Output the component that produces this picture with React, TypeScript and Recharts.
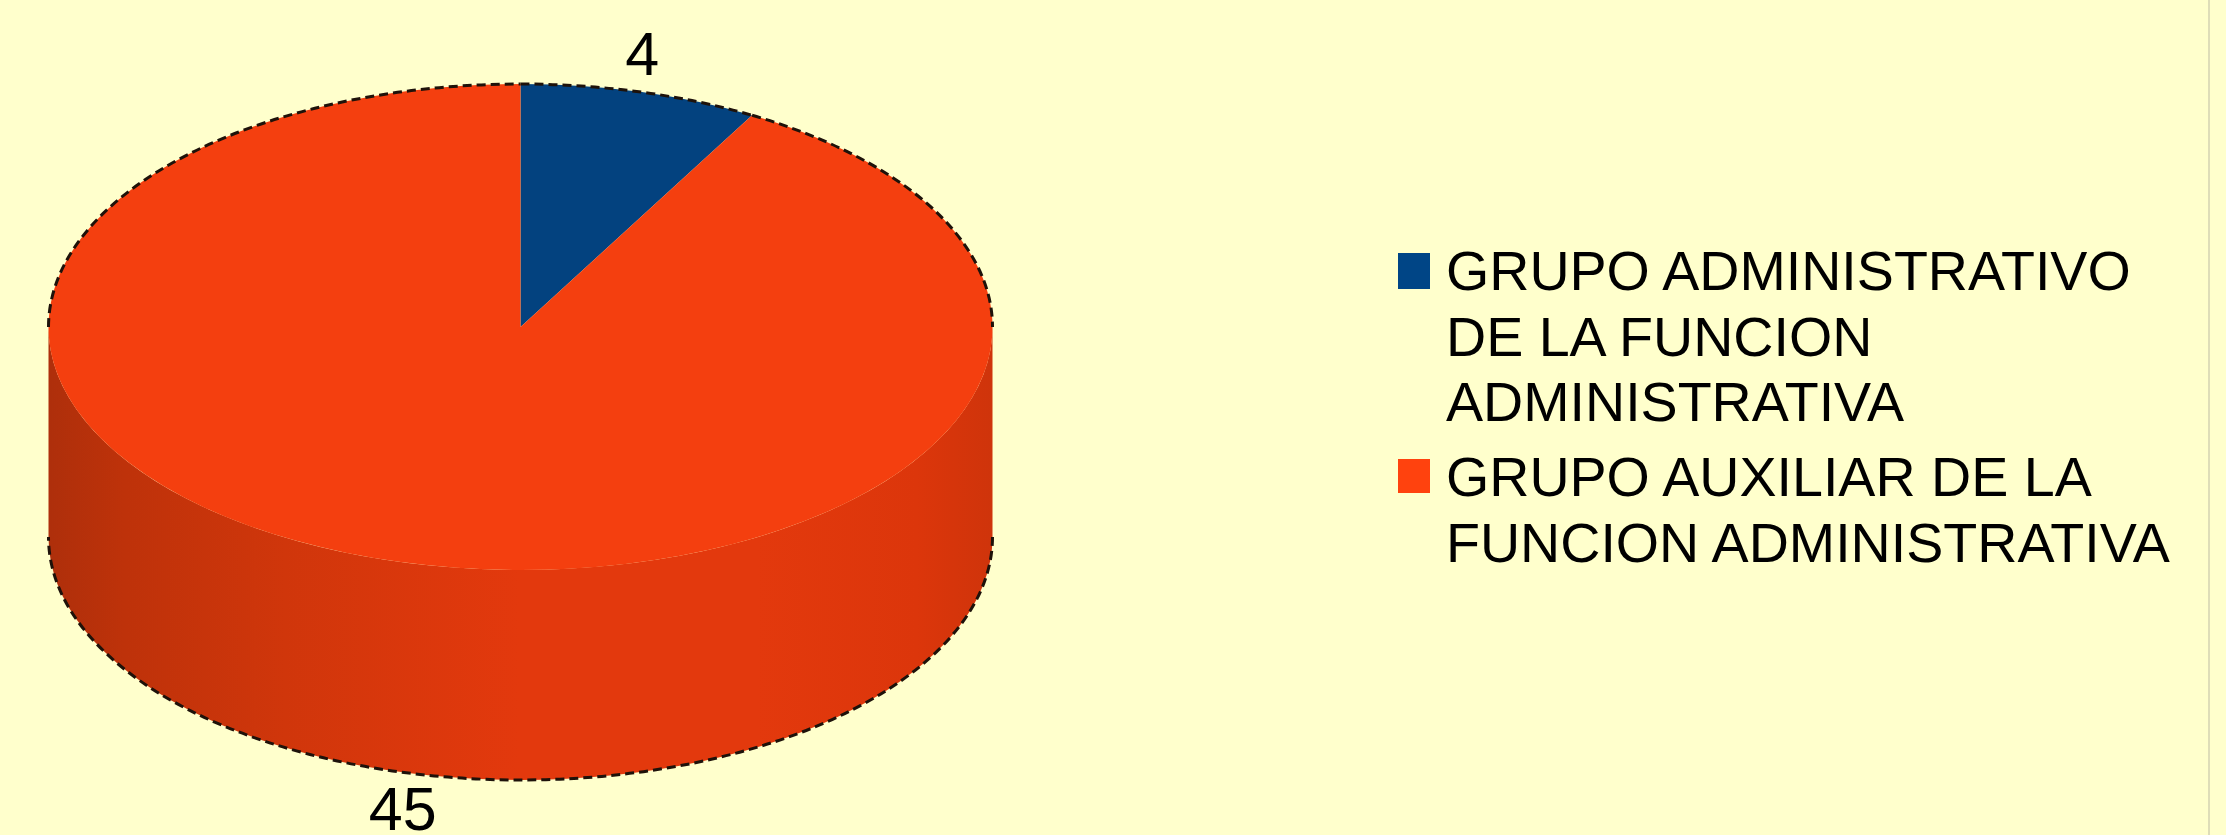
import React from "react";
import { PieChart, Pie, Cell, Legend } from "recharts";

const categories = [
  "GRUPO ADMINISTRATIVO DE LA FUNCION ADMINISTRATIVA",
  "GRUPO AUXILIAR DE LA FUNCION ADMINISTRATIVA",
];
const values = [4, 45];
const topColors = ["#03427F", "#F43F0F"];
const legendColors = ["#004586", "#FF420E"];

const rows = categories.map((name, i) => ({ name, value: values[i] }));

const CX = 520.5;
const CY = 327;
const RX = 472;
const RY = 243;
const DEPTH = 210;
const FONT = '"Liberation Sans", Arial, sans-serif';

const pt = (deg: number, dy: number) => {
  const r = (deg * Math.PI) / 180;
  return [CX + RX * Math.cos(r), CY - RY * Math.sin(r) + dy];
};
const arcTo = (from: number, to: number, dy: number) => {
  const [x, y] = pt(to, dy);
  const large = Math.abs(from - to) > 180 ? 1 : 0;
  const sweep = from > to ? 1 : 0;
  return `A ${RX} ${RY} 0 ${large} ${sweep} ${x} ${y}`;
};
const overlap = (hi: number, lo: number, bands: number[][]) =>
  bands
    .map(([a, b]) => [Math.min(hi, a), Math.max(lo, b)])
    .filter(([a, b]) => a > b);

const FRONT = [[360, 180], [0, -180], [-360, -540]];
const BACK = [[180, 0], [-180, -360]];

const Slice = (props: any) => {
  const { startAngle, endAngle, fill, index } = props;
  const hi = Math.max(startAngle, endAngle);
  const lo = Math.min(startAngle, endAngle);
  const front = overlap(hi, lo, FRONT);
  const back = overlap(hi, lo, BACK);
  const [sx, sy] = pt(hi, 0);
  const gid = `side-${index}`;
  return (
    <g>
      <defs>
        <linearGradient id={gid} gradientUnits="userSpaceOnUse" x1={CX - RX} x2={CX + RX} y1="0" y2="0">
          <stop offset="0" stopColor="#AE2F0B" />
          <stop offset="0.08" stopColor="#BE320A" />
          <stop offset="0.25" stopColor="#D0360B" />
          <stop offset="0.5" stopColor="#E3390D" />
          <stop offset="0.75" stopColor="#E3390D" />
          <stop offset="0.92" stopColor="#DC360B" />
          <stop offset="1" stopColor="#CF340B" />
        </linearGradient>
      </defs>
      {front.map(([a, b], i) => {
        const [ax, ay] = pt(a, 0);
        const [bx, by] = pt(b, DEPTH);
        return (
          <path
            key={`w${i}`}
            d={`M ${ax} ${ay} ${arcTo(a, b, 0)} L ${bx} ${by} ${arcTo(b, a, DEPTH)} Z`}
            fill={`url(#${gid})`}
          />
        );
      })}
      <path d={`M ${CX} ${CY} L ${sx} ${sy} ${arcTo(hi, lo, 0)} Z`} fill={fill} />
      {back.map(([a, b], i) => {
        const [ax, ay] = pt(a, 0);
        return (
          <path key={`t${i}`} d={`M ${ax} ${ay} ${arcTo(a, b, 0)}`} fill="none" stroke="#1E120A" strokeWidth={3} strokeDasharray="9 5" />
        );
      })}
      {front.map(([a, b], i) => {
        const [ax, ay] = pt(a, DEPTH);
        return (
          <path key={`b${i}`} d={`M ${ax} ${ay} ${arcTo(a, b, DEPTH)}`} fill="none" stroke="#1E120A" strokeWidth={3} strokeDasharray="9 5" />
        );
      })}
    </g>
  );
};

const SliceLabel = (props: any) => {
  const { midAngle, value } = props;
  const isTop = Math.sin((midAngle * Math.PI) / 180) > 0;
  const [x, y] = pt(midAngle, isTop ? 0 : DEPTH);
  return (
    <text
      x={x + 2}
      y={isTop ? y - 17 : y + 58}
      textAnchor="middle"
      fontFamily={FONT}
      fontSize={61}
      fill="#000"
    >
      {value}
    </text>
  );
};

const LegendBody = ({ payload }: any) => (
  <div style={{ fontFamily: FONT, fontSize: 55.6, lineHeight: "65.5px", color: "#000" }}>
    {(payload || []).map((e: any, i: number) => (
      <div key={e.value} style={{ display: "flex", marginBottom: 9.5 }}>
        <div
          style={{
            flex: "0 0 auto",
            width: 32,
            height: i === 0 ? 36 : 34,
            marginTop: 14,
            marginRight: 16,
            background: legendColors[i],
          }}
        />
        <div style={{ width: 745 }}>{e.value}</div>
      </div>
    ))}
  </div>
);

export default function App() {
  return (
    <div style={{ position: "absolute", left: 0, top: 0, width: 2226, height: 835, background: "#FFFFCC", overflow: "hidden" }}>
      <div style={{ position: "absolute", left: 2208, top: 0, width: 2, height: 835, background: "#DEDDB8" }} />
      <div style={{ position: "absolute", left: 0, top: 0, filter: "blur(0.7px)" }}>
        <PieChart width={2226} height={835} margin={{ top: 0, right: 0, bottom: 0, left: 0 }}>
          <Pie
            data={rows}
            dataKey="value"
            nameKey="name"
            cx={CX}
            cy={CY}
            outerRadius={RX}
            startAngle={90}
            endAngle={-270}
            stroke="none"
            shape={Slice}
            label={SliceLabel}
            labelLine={false}
            isAnimationActive={false}
          >
            {rows.map((r, i) => (
              <Cell key={r.name} fill={topColors[i]} />
            ))}
          </Pie>
          <Legend
            content={LegendBody}
            wrapperStyle={{ position: "absolute", left: 1398, top: 239, width: 800, bottom: "auto", right: "auto" }}
          />
        </PieChart>
      </div>
    </div>
  );
}
